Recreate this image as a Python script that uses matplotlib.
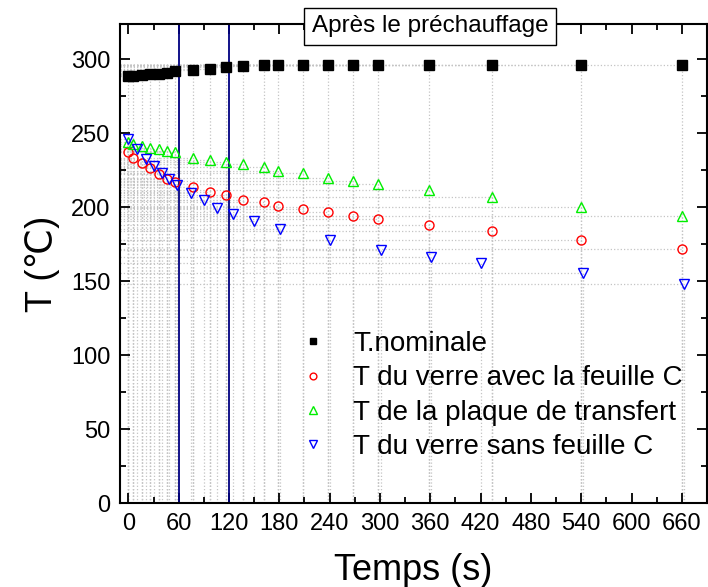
import matplotlib
matplotlib.use('Agg')
import matplotlib.pyplot as plt
from matplotlib.ticker import MultipleLocator

plt.rcParams['font.family'] = ['Liberation Sans', 'DejaVu Sans']

# Données
t_ref = [0, 6, 16, 26, 36, 46, 56, 77, 97, 117, 137, 162, 178, 208, 238, 268, 298, 358, 434, 540, 660]
T_nominale = [288.5, 289, 289.5, 290, 290.5, 291, 292, 292.6, 293.7, 294.8, 295.3, 296, 296,
              296.2, 296.3, 296.3, 296.3, 296.4, 296.4, 296.5, 296.5]
T_verre_C = [237.2, 233.6, 230.2, 226.4, 222.3, 219.1, 217.4, 213.5, 210.5, 208.1, 205.2, 203.4,
             201.1, 199.1, 197, 194.4, 192, 188, 184, 178, 172]
T_plaque = [244, 242.5, 241.7, 240.3, 239.2, 238.3, 237.2, 233.6, 231.8, 230.6, 229, 227.3,
            224.5, 223.2, 220, 217.8, 216, 212, 207, 200, 194]
t_sans = [0, 10, 21, 31, 40, 49, 58, 75, 90, 106, 125, 150, 181, 241, 301, 361, 421, 542, 662]
T_verre_sans = [246, 239.4, 232.6, 227.9, 223.4, 218.9, 215.1, 209.5, 204.8, 199.8, 195.3, 190.5,
                185.6, 177.7, 171.4, 166.4, 162.4, 155.6, 148.4]

series = [
    (t_ref, T_nominale, 's', 'black', 'black', 6.5, 'T.nominale'),
    (t_ref, T_verre_C, 'o', 'none', 'red', 6.5, 'T du verre avec la feuille C'),
    (t_ref, T_plaque, '^', 'none', '#00ee00', 7.5, 'T de la plaque de transfert'),
    (t_sans, T_verre_sans, 'v', 'none', 'blue', 7.5, 'T du verre sans feuille C'),
]

xmin, xmax = -10, 690
fig = plt.figure(figsize=(7.08, 5.87), dpi=100)
ax = fig.add_axes([120 / 708, 1 - 503 / 587, 587 / 708, 479 / 587])
ax.set_xlim(xmin, xmax)
ax.set_ylim(0, 324)

# lignes de rappel (drop lines)
for t, T, *_ in series:
    ax.hlines(T, xmin, t, colors='#c4c4c4', linestyles=':', lw=0.9, zorder=1)
    ax.vlines(t, 0, T, colors='#c4c4c4', linestyles=':', lw=0.9, zorder=1)

ax.axvline(60, color='#000080', lw=1.3, zorder=2)
ax.axvline(120, color='#000080', lw=1.3, zorder=2)

for t, T, m, fc, ec, ms, lab in series:
    ax.plot(t, T, linestyle='none', marker=m, markerfacecolor=fc, markeredgecolor=ec,
            markersize=ms, markeredgewidth=1.0, label=lab, zorder=3)

ax.xaxis.set_major_locator(MultipleLocator(60))
ax.xaxis.set_minor_locator(MultipleLocator(30))
ax.yaxis.set_major_locator(MultipleLocator(50))
ax.yaxis.set_minor_locator(MultipleLocator(25))
ax.tick_params(which='both', direction='in', top=True, right=True, width=1.3, labelsize=17, pad=7)
ax.tick_params(which='major', length=7)
ax.tick_params(which='minor', length=4)
for s in ax.spines.values():
    s.set_linewidth(1.5)

ax.set_xlabel('Temps (s)', fontsize=26, labelpad=13)
ax.set_ylabel('T (\u2103)', fontsize=26, labelpad=8)

ax.text((430 - 120) / 587, 0.995, 'Après le préchauffage', transform=ax.transAxes,
        ha='center', va='center', fontsize=17.5, zorder=5,
        bbox=dict(boxstyle='square,pad=0.3', facecolor='white', edgecolor='black', lw=1.0))

ax.legend(loc='upper left', bbox_to_anchor=(299 / 708, 1 - 331 / 587), bbox_transform=fig.transFigure,
          frameon=False, fontsize=20, markerscale=0.75, handlelength=1.0, handletextpad=0.95,
          labelspacing=0.3, borderpad=0, borderaxespad=0)

plt.savefig('out.png', dpi=100)
